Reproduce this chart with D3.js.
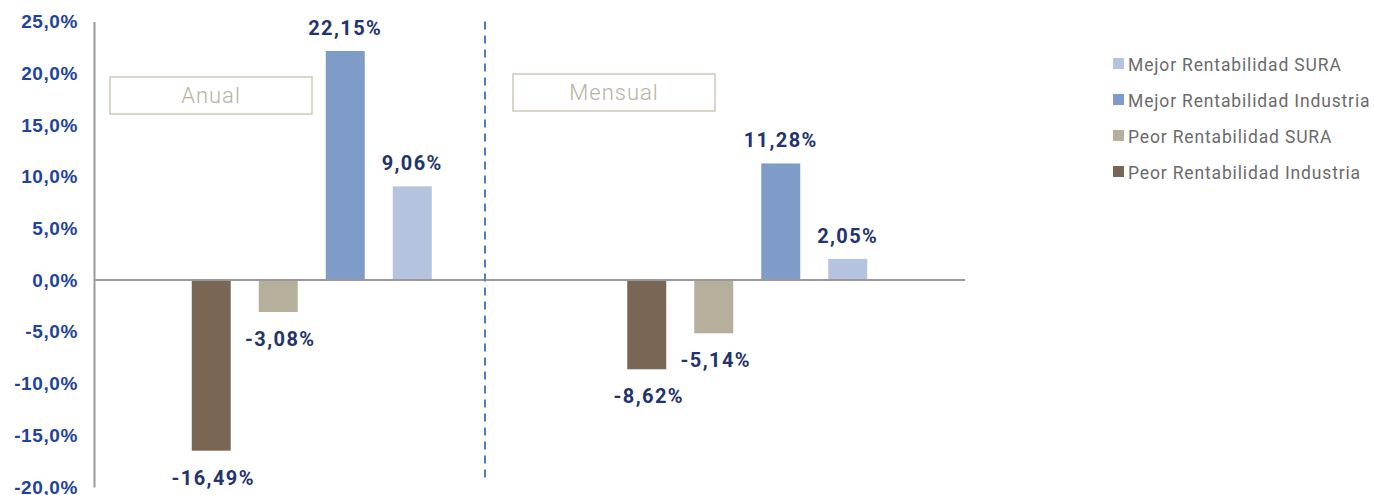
<!DOCTYPE html>
<html>
<head>
<meta charset="utf-8">
<script src="https://cdn.jsdelivr.net/npm/d3@7"></script>
<style>
  body { margin: 0; background: #fff; }
  svg { font-family: Roboto, "Noto Sans", sans-serif; }
</style>
</head>
<body>
<svg id="chart" width="1374" height="495"></svg>
<script>
// data
var periods = ["Anual", "Mensual"];
var seriesNames = ["Peor Rentabilidad Industria", "Peor Rentabilidad SURA", "Mejor Rentabilidad Industria", "Mejor Rentabilidad SURA"];
var anualValues = [-16.49, -3.08, 22.15, 9.06];
var mensualValues = [-8.62, -5.14, 11.28, 2.05];
var yTicks = [25, 20, 15, 10, 5, 0, -5, -10, -15, -20];
var legendOrder = ["Mejor Rentabilidad SURA", "Mejor Rentabilidad Industria", "Peor Rentabilidad SURA", "Peor Rentabilidad Industria"];

var colors = {
  "Peor Rentabilidad Industria": "#7a6654",
  "Peor Rentabilidad SURA": "#b6af9c",
  "Mejor Rentabilidad Industria": "#7f9cc8",
  "Mejor Rentabilidad SURA": "#b4c3de"
};

var svg = d3.select("#chart");
var plotLeft = 94, plotRight = 965, plotTop = 21.5, plotBottom = 487;
var dividerX = 485;

var fmt = function(v) { return v.toFixed(2).replace(".", ",") + "%"; };

var yScale = d3.scaleLinear().domain([-20, 25]).range([plotBottom, plotTop]);
var xScale = d3.scaleBand().domain(periods).range([plotLeft, plotRight]);
var x1 = d3.scaleBand().domain(seriesNames).range([-120, 120]).paddingInner(0.418);

var rows = [];
periods.forEach(function(p, i) {
  var vals = i == 0 ? anualValues : mensualValues;
  seriesNames.forEach(function(s, j) { rows.push({ period: p, series: s, value: vals[j] }); });
});

// y axis
var yAxis = svg.append("g")
  .attr("transform", "translate(" + plotLeft + ",0)")
  .call(d3.axisLeft(yScale).tickValues(yTicks).tickSize(0).tickPadding(16)
    .tickFormat(function(d) { return d.toFixed(1).replace(".", ",") + "%"; }));
yAxis.select(".domain").attr("stroke", "#9a9a9a").attr("stroke-width", 2);
yAxis.selectAll("text")
  .attr("fill", "#1f43a0")
  .attr("font-size", 19)
  .attr("font-weight", "bold")
  .attr("letter-spacing", 0.6);

// period boxes
var boxes = [{ name: "Anual", x: 110, y: 77 }, { name: "Mensual", x: 513, y: 74 }];
boxes.forEach(function(b) {
  svg.append("rect")
    .attr("x", b.x).attr("y", b.y).attr("width", 202).attr("height", 37)
    .attr("fill", "none").attr("stroke", "#cfc9b9").attr("stroke-width", 1.5);
  svg.append("text")
    .attr("x", b.x + 101).attr("y", b.y + 26)
    .attr("text-anchor", "middle")
    .attr("fill", "#b9b2a0")
    .attr("font-size", 22)
    .attr("font-weight", 300)
    .attr("letter-spacing", 1)
    .text(b.name);
});

// bars
svg.append("g").selectAll("rect")
  .data(rows).enter().append("rect")
  .attr("x", function(d) { return xScale(d.period) + xScale.bandwidth() / 2 + x1(d.series); })
  .attr("width", x1.bandwidth())
  .attr("y", function(d) { return yScale(Math.max(0, d.value)); })
  .attr("height", function(d) { return Math.abs(yScale(d.value) - yScale(0)); })
  .attr("fill", function(d) { return colors[d.series]; });

// zero line
svg.append("line")
  .attr("x1", plotLeft).attr("x2", plotRight)
  .attr("y1", yScale(0)).attr("y2", yScale(0))
  .attr("stroke", "#9a9a9a").attr("stroke-width", 2);

// divider between periods
svg.append("line")
  .attr("x1", dividerX).attr("x2", dividerX)
  .attr("y1", plotTop).attr("y2", 478)
  .attr("stroke", "#4a7fc0").attr("stroke-width", 2)
  .attr("stroke-dasharray", "8,6");

// value labels
svg.append("g").selectAll("text")
  .data(rows).enter().append("text")
  .attr("x", function(d) { return xScale(d.period) + xScale.bandwidth() / 2 + x1(d.series) + x1.bandwidth() / 2 + (d.value < 0 ? 2 : 0); })
  .attr("y", function(d) { return d.value >= 0 ? yScale(d.value) - 16 : yScale(d.value) + 34; })
  .attr("text-anchor", "middle")
  .attr("fill", "#23336e")
  .attr("font-size", 20)
  .attr("font-weight", "bold")
  .attr("letter-spacing", 1.4)
  .text(function(d) { return fmt(d.value); });

// legend
var legend = svg.append("g").selectAll("g")
  .data(legendOrder).enter().append("g")
  .attr("transform", function(d, i) { return "translate(1113," + (64 + i * 36) + ")"; });
legend.append("rect")
  .attr("x", 0).attr("y", -6).attr("width", 11).attr("height", 11)
  .attr("fill", function(d) { return colors[d]; });
legend.append("text")
  .attr("x", 15).attr("y", 6.5)
  .attr("fill", "#6b6b6b")
  .attr("font-size", 17.5)
  .attr("letter-spacing", 0.85)
  .text(function(d) { return d; });
</script>
</body>
</html>
